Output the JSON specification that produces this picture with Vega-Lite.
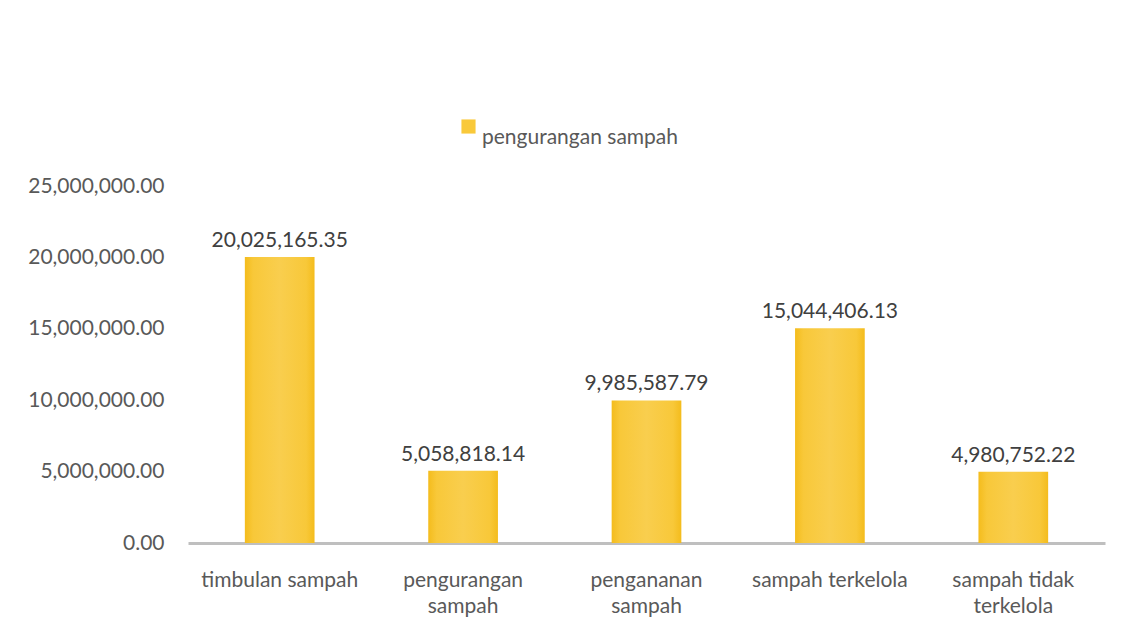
{
  "$schema": "https://vega.github.io/schema/vega-lite/v6.json",
  "width": 917,
  "height": 357,
  "autosize": {"type": "none"},
  "padding": {"left": 188, "top": 186, "right": 28, "bottom": 86},
  "background": "white",
  "config": {
    "view": {"stroke": null},
    "font": "Lato",
    "axis": {"labelFont": "Lato", "labelColor": "#595959", "labelFontSize": 21}
  },
  "data": {
    "values": [
      {"kategori": "timbulan sampah", "nilai": 20025165.35, "seri": "pengurangan sampah"},
      {"kategori": "pengurangan sampah", "nilai": 5058818.14, "seri": "pengurangan sampah"},
      {"kategori": "pengananan sampah", "nilai": 9985587.79, "seri": "pengurangan sampah"},
      {"kategori": "sampah terkelola", "nilai": 15044406.13, "seri": "pengurangan sampah"},
      {"kategori": "sampah tidak terkelola", "nilai": 4980752.22, "seri": "pengurangan sampah"}
    ]
  },
  "encoding": {
    "x": {
      "field": "kategori",
      "type": "nominal",
      "sort": null,
      "title": null,
      "scale": {"paddingInner": 0.62, "paddingOuter": 0.31},
      "axis": {
        "labelAngle": 0,
        "ticks": false,
        "domainColor": "#bfbfbf",
        "domainWidth": 3,
        "labelPadding": 37,
        "labelLineHeight": 26,
        "labelBaseline": "middle",
        "labelExpr": "datum.label == 'sampah tidak terkelola' ? ['sampah tidak', 'terkelola'] : (datum.label == 'pengurangan sampah' || datum.label == 'pengananan sampah') ? split(datum.label, ' ') : datum.label"
      }
    },
    "y": {
      "field": "nilai",
      "type": "quantitative",
      "title": null,
      "scale": {"domain": [0, 25000000], "nice": false},
      "axis": {
        "values": [0, 5000000, 10000000, 15000000, 20000000, 25000000],
        "format": ",.2f",
        "grid": false,
        "domain": false,
        "ticks": false,
        "labelPadding": 24
      }
    }
  },
  "layer": [
    {
      "mark": {
        "type": "bar",
        "fill": {
          "gradient": "linear",
          "x1": 0, "y1": 0, "x2": 1, "y2": 0,
          "stops": [
            {"offset": 0, "color": "#F4BC1C"},
            {"offset": 0.12, "color": "#F8C839"},
            {"offset": 0.5, "color": "#F9CE4E"},
            {"offset": 0.88, "color": "#F8C839"},
            {"offset": 1, "color": "#F4BC1C"}
          ]
        }
      },
      "encoding": {
        "color": {
          "field": "seri",
          "type": "nominal",
          "scale": {"range": ["#F9C93A"]},
          "legend": {
            "title": null,
            "orient": "none",
            "legendX": 270,
            "legendY": -70,
            "symbolType": "square",
            "symbolSize": 200,
            "symbolFillColor": "#F9C93A",
            "symbolStrokeWidth": 0,
            "labelFontSize": 21,
            "labelColor": "#595959",
            "labelFont": "Lato",
            "labelLimit": 0,
            "labelBaseline": "top",
            "labelOffset": 3
          }
        }
      }
    },
    {
      "mark": {"type": "text", "baseline": "bottom", "dy": -6, "fontSize": 21, "color": "#404040", "font": "Lato"},
      "encoding": {
        "text": {"field": "nilai", "type": "quantitative", "format": ",.2f"}
      }
    }
  ]
}
